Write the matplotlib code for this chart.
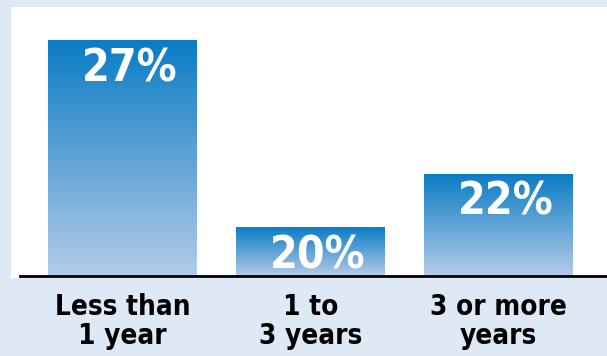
import numpy as np
import matplotlib.pyplot as plt
from matplotlib.patches import Rectangle
from matplotlib.colors import LinearSegmentedColormap

categories = ['Less than\n1 year', '1 to\n3 years', '3 or more\nyears']
values = [27, 20, 22]
labels = ['27%', '20%', '22%']

W, H = 607, 356
fig = plt.figure(figsize=(W / 100, H / 100), dpi=100)
fig.patch.set_facecolor('#dfe9f5')

# white panel behind the bars
fig.add_artist(Rectangle((11 / W, (H - 278) / H), 1, (278 - 7) / H,
                         transform=fig.transFigure, facecolor='white',
                         edgecolor='none', zorder=0))

ax = fig.add_axes([20 / W, (H - 276) / H, (W - 20) / W, (276 - 7) / H])
ax.set_facecolor('none')
ymin, ymax = 18.17, 28.24
ax.set_ylim(ymin, ymax)
ax.set_xlim(-0.545, 2.577)

cmap = LinearSegmentedColormap.from_list('bar', ['#b4cbe8', '#0a7cc5'])
grad = np.linspace(0, 1, 256).reshape(-1, 1)
bw = 0.79
fam = ['DejaVu Sans']

for i, v in enumerate(values):
    bars = ax.bar(i, v, width=bw, color='none', edgecolor='none')
    im = ax.imshow(grad, cmap=cmap, origin='lower', aspect='auto',
                   extent=(i - bw / 2, i + bw / 2, ymin, v), zorder=2)
    im.set_clip_path(bars[0])
    ax.annotate(labels[i], (i, v), xytext=(5.5, -5), textcoords='offset points',
                ha='center', va='top', color='white', fontsize=32,
                fontweight='bold', family=fam, fontstretch='condensed', zorder=3)

ax.set_xticks(range(3))
ax.set_xticklabels(categories, fontsize=20, fontweight='bold',
                   family=fam, fontstretch='condensed', linespacing=1.05)
ax.tick_params(axis='x', length=0, pad=12)
ax.set_yticks([])
for s in ['top', 'left', 'right']:
    ax.spines[s].set_visible(False)
ax.spines['bottom'].set_linewidth(2)
ax.spines['bottom'].set_zorder(4)

fig.savefig('out.png', dpi=100, facecolor=fig.get_facecolor())
